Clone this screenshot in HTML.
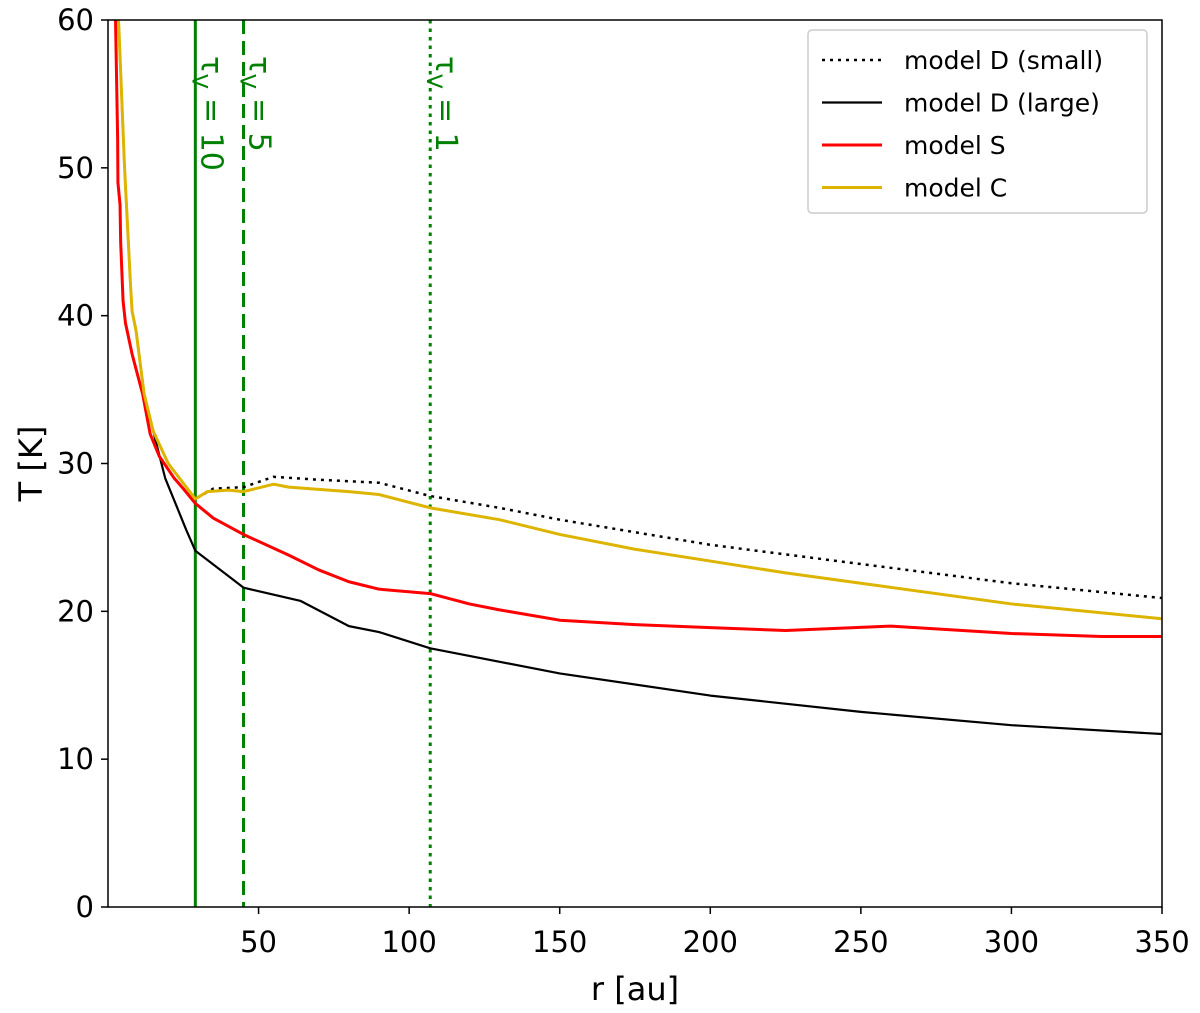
<!DOCTYPE html>
<html><head><meta charset="utf-8"><style>
body{margin:0;background:#fff}
svg{font-family:"DejaVu Sans","Liberation Sans",sans-serif}
</style></head><body>
<svg id="chart" width="1200" height="1008">
<g id="plot"></g>
</svg>
<script>
const ticksX=[50,100,150,200,250,300,350];
const ticksY=[0,10,20,30,40,50,60];
const rLarge=[3.5,5.5,7.5,8,9.3,12,15,19,23,26,29,45,64,80,90,107,150,200,250,300,350];
const tLarge=[60,50,42,40.3,39,34.7,32.2,29,27,25.5,24.1,21.6,20.7,19,18.6,17.5,15.8,14.3,13.2,12.3,11.7];
const rS=[2.5,3.2,3.3,4.0,4.2,5,5.8,8,11.5,14,17,22,25,29,35,45,60,70,80,90,107,120,130,150,175,200,225,260,300,330,350];
const tS=[60,52,49,47.5,45,41,39.5,37.4,34.7,32,30.5,29,28.3,27.3,26.3,25.2,23.8,22.8,22,21.5,21.2,20.5,20.1,19.4,19.1,18.9,18.7,19.0,18.5,18.3,18.3];
const rC=[3.5,5.5,7.5,8,9.3,12,15,20,27.5,29,33,40,45,55,60,80,90,107,130,150,175,200,225,250,300,350];
const tC=[60,50,42,40.3,39,34.7,32.2,30,28,27.6,28.1,28.2,28.1,28.6,28.4,28.1,27.9,27.0,26.2,25.2,24.2,23.4,22.6,21.9,20.5,19.5];
const rD=[3.5,5.5,7.5,8,9.3,12,15,20,27.5,29,35,45,55,70,90,107,130,150,200,250,300,350];
const tD=[60,50,42,40.3,39,34.7,32.2,30,28,27.6,28.3,28.4,29.1,28.9,28.7,27.8,27.0,26.2,24.5,23.2,21.9,20.9];
const tauR=[29,45,107];
const tauLabels=["10","5","1"];
const tauDash=["none","14,7","3.5,5"];

const L=108,R=1162,T=20,B=907;
const X=v=>L+(v-0)/(350-0)*(R-L);
const Y=v=>B-(v-0)/(60-0)*(B-T);
const NS="http://www.w3.org/2000/svg";
const svg=document.getElementById('chart');
function el(tag,attrs,parent){const e=document.createElementNS(NS,tag);for(const k in attrs)e.setAttribute(k,attrs[k]);(parent||svg).appendChild(e);return e;}
const defs=el('defs',{});const cp=el('clipPath',{id:'clip'},defs);el('rect',{x:L,y:T,width:R-L,height:B-T},cp);
const g=el('g',{'clip-path':'url(#clip)'});


function line(rs,ts,color,w,dash,name){
 const p=el('polyline',{points:rs.map((r,i)=>X(r)+','+Y(ts[i])).join(' '),fill:'none',stroke:color,'stroke-width':w,'stroke-dasharray':dash||'none','stroke-linejoin':'round'},g);
 
 
}
tauR.forEach((r,i)=>{
 const l=el('line',{x1:X(r),x2:X(r),y1:T,y2:B,stroke:'#008000','stroke-width':3,'stroke-dasharray':tauDash[i]},g);
 
 
 const t=el('text',{x:0,y:0,transform:`translate(${X(r)+6},56) rotate(90)`,fill:'#008000','font-size':30});
 
 
 t.innerHTML='τ<tspan font-size="21" dy="9">V</tspan><tspan dy="-9"> = '+tauLabels[i]+'</tspan>';
});
line(rD,tD,'#000',2.5,'3,5','line-model-d-small');
line(rLarge,tLarge,'#000',2.2,null,'line-model-d-large');
line(rS,tS,'#ff0000',3,null,'line-model-s');
line(rC,tC,'#ddb400',3,null,'line-model-c');
const fr=el('rect',{x:L,y:T,width:R-L,height:B-T,fill:'none',stroke:'#000','stroke-width':1.5});


ticksX.forEach(v=>{
 el('line',{x1:X(v),x2:X(v),y1:B,y2:B+7,stroke:'#000','stroke-width':1.5});
 const t=el('text',{x:X(v),y:B+45,'text-anchor':'middle','font-size':29},svg);t.textContent=v;
 
 
});
ticksY.forEach(v=>{
 el('line',{x1:L-7,x2:L,y1:Y(v),y2:Y(v),stroke:'#000','stroke-width':1.5});
 const t=el('text',{x:L-14,y:Y(v)+10,'text-anchor':'end','font-size':29});t.textContent=v;
 
 
});
const xl=el('text',{x:(L+R)/2,y:1000,'text-anchor':'middle','font-size':32});xl.textContent='r [au]';


const yl=el('text',{x:0,y:0,transform:`translate(42,${(T+B)/2}) rotate(-90)`,'text-anchor':'middle','font-size':32});yl.textContent='T [K]';


const lg=el('rect',{x:808,y:30,width:339,height:183,fill:'#fff',stroke:'#ccc','stroke-width':1.5,rx:4});


const leg=[['model D (small)','#000','3,5',2.5],['model D (large)','#000','none',2.2],['model S','#ff0000','none',3],['model C','#ddb400','none',3]];
leg.forEach((e,i)=>{
 const y=60+i*42.5;
 el('line',{x1:822,x2:882,y1:y,y2:y,stroke:e[1],'stroke-width':e[3],'stroke-dasharray':e[2]});
 const t=el('text',{x:904,y:y+9,'font-size':25});t.textContent=e[0];
 
 
});
</script>
</body></html>
